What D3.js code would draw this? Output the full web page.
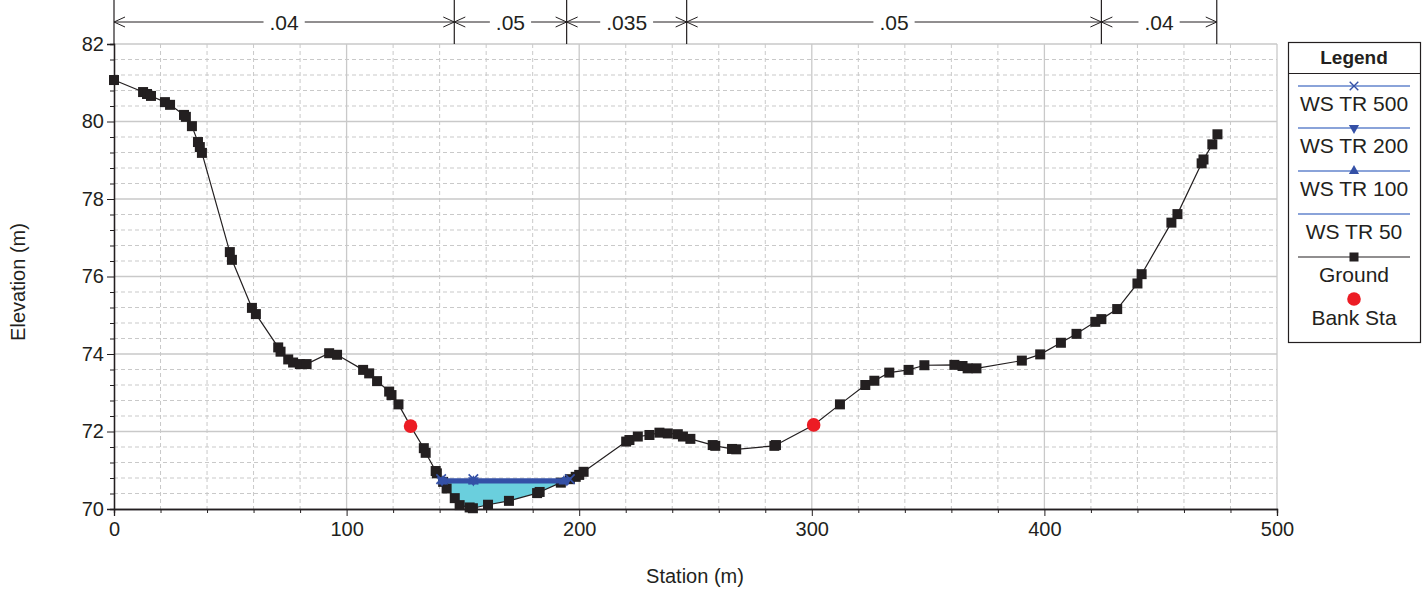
<!DOCTYPE html>
<html><head><meta charset="utf-8">
<script src="https://cdn.jsdelivr.net/npm/d3@7"></script>
<style>
html,body{margin:0;padding:0;background:#fff;}
svg text{font-family:"Liberation Sans",Arial,sans-serif;fill:#231f20;}
</style></head>
<body><svg id="c" width="1428" height="592"></svg>
<script>
// ---- data ----
const groundStation = [0,12.5,14.2,15.9,21.9,24.1,30.1,30.9,33.5,36.1,36.9,37.8,49.8,50.7,59.3,61.0,70.6,71.6,74.9,77.0,79.9,82.8,92.5,95.9,107.1,109.7,113.1,118.3,119.3,122.3,127.5,133.2,134.0,138.3,138.8,141.5,143.0,146.5,148.6,152.9,154.3,160.8,169.8,181.9,183.0,192.1,196.0,198.5,200.0,201.9,220.2,221.6,225.2,230.2,234.5,238.1,242.4,244.6,247.8,257.4,258.5,265.7,267.5,283.9,284.6,300.8,312.1,323.0,326.9,333.3,341.6,348.4,361.3,364.8,367.0,370.8,390.3,398.2,407.1,413.8,421.9,424.5,431.3,440.0,441.8,454.6,457.2,467.6,468.4,472.2,474.4];
const groundElev = [81.07,80.76,80.71,80.66,80.50,80.43,80.17,80.12,79.88,79.47,79.34,79.19,76.63,76.43,75.19,75.03,74.17,74.06,73.86,73.78,73.74,73.74,74.02,73.98,73.59,73.50,73.30,73.03,72.94,72.70,72.14,71.57,71.45,70.98,70.92,70.70,70.53,70.28,70.10,70.04,70.02,70.11,70.21,70.41,70.44,70.68,70.77,70.83,70.88,70.96,71.74,71.78,71.87,71.91,71.97,71.95,71.93,71.87,71.81,71.65,71.63,71.55,71.54,71.63,71.65,72.17,72.70,73.20,73.31,73.52,73.59,73.71,73.72,73.69,73.63,73.63,73.83,73.99,74.29,74.52,74.83,74.90,75.16,75.82,76.06,77.39,77.61,78.92,79.02,79.41,79.67];
const bankStation = [127.5, 300.8];
const bankElev = [72.14, 72.17];
const wsNames = ["WS TR 500","WS TR 200","WS TR 100","WS TR 50"];
const wsElev = [70.77, 70.74, 70.71, 70.68];
const wsMarkerStation = [154.5];
const nBreaks = [0,146.3,194.6,246.2,424.5,474.1];
const nValues = [".04",".05",".035",".05",".04"];
const xTicks = [0,100,200,300,400,500];
const yTicks = [70,72,74,76,78,80,82];
const legendLabels = ["WS TR 500","WS TR 200","WS TR 100","WS TR 50","Ground","Bank Sta"];

// ---- layout ----
const L=114, R=1277, T=44, B=509;
const svg = d3.select("#c");
const x = d3.scaleLinear().domain([0,500]).range([L,R]);
const y = d3.scaleLinear().domain([70,82]).range([B,T]);
const ink="#231f20", grid="#c9c9c9", blue="#3450a6", lblue="#6384cc";

// grid
const minorX = d3.range(0,501,20).filter(v=>v%100!==0);
const minorY = d3.range(70,82.001,0.4).map(v=>+v.toFixed(1)).filter(v=>Math.abs(v%2)>1e-6 && Math.abs(v%2-2)>1e-6);
const g = svg.append("g");
g.selectAll(".mx").data(minorX).join("line").attr("x1",d=>x(d)).attr("x2",d=>x(d)).attr("y1",T).attr("y2",B)
  .attr("stroke",grid).attr("stroke-dasharray","4,3");
g.selectAll(".my").data(minorY).join("line").attr("y1",d=>y(d)).attr("y2",d=>y(d)).attr("x1",L).attr("x2",R)
  .attr("stroke",grid).attr("stroke-dasharray","4,3");
g.selectAll(".Mx").data(xTicks.slice(1)).join("line").attr("x1",d=>x(d)).attr("x2",d=>x(d)).attr("y1",T).attr("y2",B)
  .attr("stroke",grid).attr("stroke-width",1.3);
g.selectAll(".My").data(yTicks.slice(1)).join("line").attr("y1",d=>y(d)).attr("y2",d=>y(d)).attr("x1",L).attr("x2",R)
  .attr("stroke",grid).attr("stroke-width",1.3);

// axes
const ax = svg.append("g").attr("transform",`translate(0,${B})`)
  .call(d3.axisBottom(x).tickValues(xTicks).tickSize(7).tickPadding(6).tickFormat(d3.format("d")));
const axm = svg.append("g").attr("transform",`translate(0,${B})`)
  .call(d3.axisBottom(x).tickValues(minorX).tickSize(4).tickFormat(""));
const ay = svg.append("g").attr("transform",`translate(${L},0)`)
  .call(d3.axisLeft(y).tickValues(yTicks).tickSize(7).tickPadding(3).tickFormat(d3.format("d")));
const aym = svg.append("g").attr("transform",`translate(${L},0)`)
  .call(d3.axisLeft(y).tickValues(minorY).tickSize(4).tickFormat(""));
[ax,axm,ay,aym].forEach(a=>{a.selectAll("path").attr("stroke",ink).attr("stroke-width",1.3);a.selectAll("line").attr("stroke",ink);});
[ax,ay].forEach(a=>a.selectAll("text").style("font-size","20px").attr("fill",ink));

svg.append("text").attr("x",695).attr("y",583).attr("text-anchor","middle").style("font-size","20px").text("Station (m)");
svg.append("text").attr("transform","translate(25,282) rotate(-90)").attr("text-anchor","middle").style("font-size","20px").text("Elevation (m)");

// ---- water surface fill ----
const ground = groundStation.map((s,i)=>({s, e:groundElev[i]}));
function crossings(ws){
  let iMin = d3.minIndex(ground,d=>d.e);
  let i=iMin; while(i>0 && ground[i-1].e<ws) i--;
  const a=ground[i-1], b=ground[i];
  const sl = a.s + (ws-a.e)/(b.e-a.e)*(b.s-a.s);
  let j=iMin; while(j<ground.length-1 && ground[j+1].e<ws) j++;
  const c=ground[j], d=ground[j+1];
  const sr = c.s + (ws-c.e)/(d.e-c.e)*(d.s-c.s);
  return {sl, sr, i, j};
}
const low = crossings(wsElev[3]);
const fillPts = [[low.sl,wsElev[3]]].concat(ground.slice(low.i,low.j+1).map(d=>[d.s,d.e])).concat([[low.sr,wsElev[3]]]);
svg.append("path").attr("d",d3.line().x(d=>x(d[0])).y(d=>y(d[1]))(fillPts)+"Z").attr("fill","#6acfdd");

// ---- ground ----
svg.append("path").datum(ground).attr("d",d3.line().x(d=>x(d.s)).y(d=>y(d.e)))
  .attr("fill","none").attr("stroke",ink).attr("stroke-width",1.2);
svg.selectAll(".gp").data(ground.filter(d=>!bankStation.includes(d.s))).join("rect")
  .attr("x",d=>x(d.s)-5).attr("y",d=>y(d.e)-5).attr("width",10).attr("height",10).attr("fill",ink);

// ---- water surface lines ----
const sym = [d3.symbolX, d3.symbolTriangle, d3.symbolTriangle, null];
wsElev.forEach((w,k)=>{
  const c = crossings(w);
  svg.append("line").attr("x1",x(c.sl)).attr("x2",x(c.sr)).attr("y1",y(w)).attr("y2",y(w))
    .attr("stroke",blue).attr("stroke-width",1.6);
  if(sym[k]){
    [c.sl].concat(wsMarkerStation).concat([c.sr]).forEach(s=>{
      const p = svg.append("path").attr("d",d3.symbol(sym[k], k===0?60:50)())
        .attr("transform",`translate(${x(s)},${y(w)})${k===1?" rotate(180)":""}`);
      if(k===0) p.attr("stroke",blue).attr("stroke-width",1.6).attr("fill","none");
      else p.attr("fill",blue);
    });
  }
});

svg.selectAll(".bk").data(bankStation).join("circle").attr("cx",d=>x(d)).attr("cy",(d,i)=>y(bankElev[i]))
  .attr("r",6.8).attr("fill","#ec1c24");

// ---- Manning's n dimension line ----
const dy = 22;
const nGroup = svg.append("g");
nBreaks.forEach(b=>nGroup.append("line").attr("x1",x(b)).attr("x2",x(b)).attr("y1",0).attr("y2",T).attr("stroke",ink).attr("stroke-width",1.2));
nValues.forEach((v,i)=>{
  const x0=x(nBreaks[i]), x1=x(nBreaks[i+1]), xm=(x0+x1)/2;
  const t = nGroup.append("text").attr("x",xm).attr("y",dy+7.5).attr("text-anchor","middle").style("font-size","21px").text(v);
  const w = t.node().getComputedTextLength()/2+6;
  nGroup.append("line").attr("x1",x0).attr("x2",xm-w).attr("y1",dy).attr("y2",dy).attr("stroke",ink).attr("stroke-width",1);
  nGroup.append("line").attr("x1",xm+w).attr("x2",x1).attr("y1",dy).attr("y2",dy).attr("stroke",ink).attr("stroke-width",1);
  nGroup.append("path").attr("d",`M${x0+11},${dy-5}L${x0},${dy}L${x0+11},${dy+5}`).attr("fill","none").attr("stroke",ink);
  nGroup.append("path").attr("d",`M${x1-11},${dy-5}L${x1},${dy}L${x1-11},${dy+5}`).attr("fill","none").attr("stroke",ink);
});

// ---- legend ----
const lg = svg.append("g");
const lx0=1288, lx1=1420, lcx=(lx0+lx1)/2;
lg.append("rect").attr("x",lx0+0.5).attr("y",42.5).attr("width",lx1-lx0).attr("height",300).attr("fill","#fff").attr("stroke",ink).attr("stroke-width",1.2);
lg.append("line").attr("x1",lx0).attr("x2",lx1).attr("y1",73.5).attr("y2",73.5).attr("stroke",ink).attr("stroke-width",1.2);
lg.append("text").attr("x",lcx).attr("y",64).attr("text-anchor","middle").style("font-size","19px").style("font-weight","bold").text("Legend");
const lineY=[86,128,171,214,257], textY=[111,153,196,239,282,325];
legendLabels.forEach((lab,i)=>{
  lg.append("text").attr("x",lcx).attr("y",textY[i]).attr("text-anchor","middle").style("font-size","21px").text(lab);
  if(i<4){
    lg.append("line").attr("x1",1298).attr("x2",1410).attr("y1",lineY[i]).attr("y2",lineY[i]).attr("stroke",lblue).attr("stroke-width",1.6);
    if(sym[i]){
      const p=lg.append("path").attr("d",d3.symbol(sym[i],i===0?50:45)()).attr("transform",`translate(${lcx},${lineY[i]})${i===1?" rotate(180)":""}`);
      if(i===0) p.attr("stroke",blue).attr("stroke-width",1.4).attr("fill","none"); else p.attr("fill",blue);
    }
  } else if(i===4){
    lg.append("line").attr("x1",1298).attr("x2",1410).attr("y1",lineY[i]).attr("y2",lineY[i]).attr("stroke",ink).attr("stroke-width",1.2);
    lg.append("rect").attr("x",lcx-4.5).attr("y",lineY[i]-4.5).attr("width",9).attr("height",9).attr("fill",ink);
  } else {
    lg.append("circle").attr("cx",lcx).attr("cy",299).attr("r",6.8).attr("fill","#ec1c24");
  }
});
</script></body></html>
